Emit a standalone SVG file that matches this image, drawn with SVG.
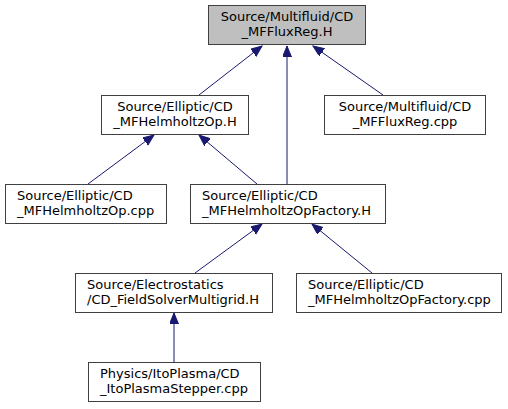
<svg xmlns="http://www.w3.org/2000/svg" width="508" height="409" viewBox="0 0 508 409">
<style>
.box{fill:#ffffff;stroke:#404040;stroke-width:1}
.root{fill:#bfbfbf;stroke:#404040;stroke-width:1}
.t{font-family:"DejaVu Sans",sans-serif;font-size:13px;fill:#000000;text-anchor:middle}
.l{font-family:"DejaVu Sans",sans-serif;font-size:13px;fill:#000000;text-anchor:start}
.e{stroke:#191970;stroke-width:1;fill:none;marker-end:url(#ah)}
</style>
<defs>
<marker id="ah" markerUnits="userSpaceOnUse" markerWidth="12" markerHeight="10" refX="11" refY="4.5" orient="auto">
<path d="M0,0 L11,4.5 L0,9 z" fill="#191970" stroke="#191970" stroke-width="1"/>
</marker>
</defs>
<g id="edges">
<line class="e" x1="199" y1="95" x2="262" y2="46"/>
<line class="e" x1="287" y1="184" x2="287" y2="46"/>
<line class="e" x1="383" y1="95" x2="313" y2="46"/>
<line class="e" x1="88" y1="184" x2="154" y2="135"/>
<line class="e" x1="257" y1="184" x2="199" y2="135"/>
<line class="e" x1="195" y1="273" x2="262" y2="224"/>
<line class="e" x1="372" y1="273" x2="312" y2="224"/>
<line class="e" x1="174" y1="362" x2="174" y2="313"/>
</g>
<g id="n1">
<rect class="root" x="208.5" y="5.5" width="157" height="39"/>
<text class="t" x="287" y="21">Source/Multifluid/CD</text>
<text class="t" x="287" y="36">_MFFluxReg.H</text>
</g>
<g id="n2">
<rect class="box" x="101.5" y="95.5" width="147" height="39"/>
<text class="t" x="175" y="111">Source/Elliptic/CD</text>
<text class="t" x="175" y="126">_MFHelmholtzOp.H</text>
</g>
<g id="n8">
<rect class="box" x="324.5" y="95.5" width="161" height="39"/>
<text class="t" x="405" y="111">Source/Multifluid/CD</text>
<text class="t" x="405" y="126">_MFFluxReg.cpp</text>
</g>
<g id="n3">
<rect class="box" x="5.5" y="184.5" width="161" height="39"/>
<text class="l" x="17" y="200">Source/Elliptic/CD</text>
<text class="l" x="17" y="215">_MFHelmholtzOp.cpp</text>
</g>
<g id="n4">
<rect class="box" x="190.5" y="184.5" width="195" height="39"/>
<text class="l" x="202" y="200">Source/Elliptic/CD</text>
<text class="l" x="202" y="215">_MFHelmholtzOpFactory.H</text>
</g>
<g id="n5">
<rect class="box" x="75.5" y="273.5" width="197" height="39"/>
<text class="l" x="87" y="289">Source/Electrostatics</text>
<text class="l" x="87" y="304">/CD_FieldSolverMultigrid.H</text>
</g>
<g id="n6">
<rect class="box" x="296.5" y="273.5" width="205" height="39"/>
<text class="l" x="308" y="289">Source/Elliptic/CD</text>
<text class="l" x="308" y="304">_MFHelmholtzOpFactory.cpp</text>
</g>
<g id="n7">
<rect class="box" x="88.5" y="362.5" width="172" height="39"/>
<text class="l" x="100" y="378">Physics/ItoPlasma/CD</text>
<text class="l" x="100" y="393">_ItoPlasmaStepper.cpp</text>
</g>
</svg>
